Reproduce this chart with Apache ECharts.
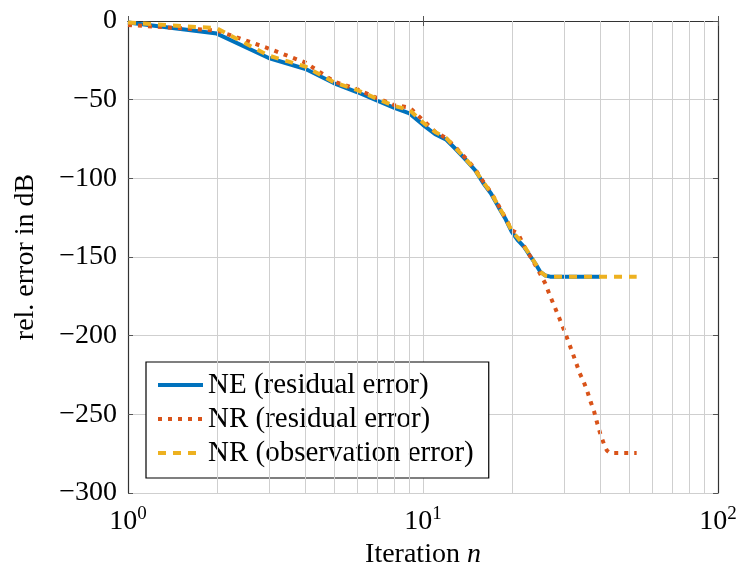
<!DOCTYPE html>
<html>
<head>
<meta charset="utf-8">
<script src="https://cdn.jsdelivr.net/npm/echarts@6/dist/echarts.min.js"></script>
<style>html,body{margin:0;padding:0;background:#fff;}#c{width:738px;height:576px;}</style>
</head>
<body>
<div id="c"></div>
<script>
// Iteration numbers
var iterNE = [1,2,3,4,5,6,7,8,9,10,11,12,13,14,15,16,17,18,19,20,21,22,23,24,25,26,27,28,29,30,31,32,33,34,35,36,37,38,39,40];
var iterNR = [1,2,3,4,5,6,7,8,9,10,11,12,13,14,15,16,17,18,19,20,21,22,23,24,25,26,27,28,29,30,31,32,33,34,35,36,37,38,39,40,41,42,43,44,45,46,47,48,49,50,51,52,53];
// NE (residual error)
var neResidual = [-1,-8,-23.5,-30.5,-39.6,-45.3,-50.7,-55.2,-58.7,-66,-72,-75.5,-82,-88.4,-94.7,-103,-109.6,-118,-125.5,-134,-139.5,-143.5,-149,-154,-159.5,-161.8,-162.5,-162.5,-162.5,-162.5,-162.5,-162.5,-162.5,-162.5,-162.5,-162.5,-162.5,-162.5,-162.5,-162.5];
// NR (residual error)
var nrResidual = [-2.5,-6,-17.5,-26.5,-38.5,-43.5,-49,-53.5,-55,-63,-70.5,-74.5,-81,-87.5,-94,-102,-109,-117,-125,-133,-135,-143,-149,-155,-161,-167,-175,-182,-189,-196,-203,-210,-217,-224,-229,-235,-242,-248,-256,-263,-268.5,-273,-274.5,-274.5,-274.5,-274.5,-274.5,-274.5,-274.5,-274.5,-274.5,-274.5,-274.5];
// NR (observation error)
var nrObservation = [-1,-4.6,-22,-29,-39,-44,-49.5,-54,-56.5,-64.5,-70.5,-74.5,-81.5,-88,-94.5,-102.5,-109,-117.5,-125,-133.5,-138,-143,-148.5,-154,-159.5,-161.8,-162.5,-162.5,-162.5,-162.5,-162.5,-162.5,-162.5,-162.5,-162.5,-162.5,-162.5,-162.5,-162.5,-162.5,-162.5,-162.5,-162.5,-162.5,-162.5,-162.5,-162.5,-162.5,-162.5,-162.5,-162.5,-162.5,-162.5];
// minor grid positions on the log axis
var minorGridX = [2,3,4,5,6,7,8,9,20,30,40,50,60,70,80,90];
var seriesNames = ['NE (residual error)','NR (residual error)','NR (observation error)'];
var xAxisName = 'Iteration';
var yAxisName = 'rel. error in dB';

function zip(xs, ys){ return xs.map(function(x,i){ return [x, ys[i]]; }); }

var FONT = 'Liberation Serif';
var chart = echarts.init(document.getElementById('c'), null, {renderer:'canvas'});
var frame = {show:true, lineStyle:{color:'#333', width:1.2}};
var tick = {show:true, inside:true, length:5, lineStyle:{color:'#555', width:1}};
var grid = {show:true, lineStyle:{color:'#cfcfcf', width:1}};
var supFmt = function(v){ var e = Math.round(Math.log10(v)); return '{a|10}{b|' + e + '}'; };
var supRich = {a:{fontFamily:FONT, fontSize:28, color:'#000'}, b:{fontFamily:FONT, fontSize:19, color:'#000', padding:[0,0,14,0]}};

chart.setOption({
  animation:false,
  backgroundColor:'#fff',
  grid:{left:128, top:21, right:20, bottom:83, containLabel:false, outerBoundsMode:'none'},
  xAxis:[{
    type:'log', logBase:10, min:1, max:100, position:'bottom',
    axisLine:frame, axisTick:tick, splitLine:grid,
    axisLabel:{formatter:supFmt, rich:supRich, margin:12},
    name:'{r|' + xAxisName + ' }{i|n}', nameLocation:'middle', nameGap:48,
    nameTextStyle:{rich:{r:{fontFamily:FONT, fontSize:28, color:'#000'}, i:{fontFamily:FONT, fontSize:28, fontStyle:'italic', color:'#000'}}}
  },{
    type:'log', logBase:10, min:1, max:100, position:'top',
    axisLine:frame, axisTick:tick, splitLine:{show:false}, axisLabel:{show:false}
  }],
  yAxis:[{
    type:'value', min:-300, max:0, interval:50, position:'left',
    axisLine:frame, axisTick:tick, splitLine:grid,
    axisLabel:{fontFamily:FONT, fontSize:28, color:'#000', margin:11,
      formatter:function(v){ return String(v).replace('-', '\u2212'); }},
    name:yAxisName, nameLocation:'middle', nameGap:88,
    nameTextStyle:{fontFamily:FONT, fontSize:28, color:'#000'}
  },{
    type:'value', min:-300, max:0, interval:50, position:'right',
    axisLine:frame, axisTick:tick, splitLine:{show:false}, axisLabel:{show:false}
  }],
  legend:{
    orient:'vertical', left:146, top:362,
    data:seriesNames,
    itemWidth:45, itemHeight:14, itemGap:0,
    padding:[6,15,8,10],
    borderColor:'#000', borderWidth:1.2, borderRadius:0, backgroundColor:'#fff',
    itemStyle:{opacity:0, borderWidth:0},
    lineStyle:{width:4},
    textStyle:{fontFamily:FONT, fontSize:29, color:'#000', lineHeight:34}
  },
  series:[
    {type:'line', name:'_grid', data:[], z:1, silent:true,
     markLine:{silent:true, symbol:['none','none'], label:{show:false}, animation:false,
       lineStyle:{color:'#cfcfcf', width:1, type:'solid'},
       data:minorGridX.map(function(v){ return {xAxis:v}; })}},
    {type:'line', name:seriesNames[0], data:zip(iterNE, neResidual), showSymbol:false, symbol:'none', z:3,
     lineStyle:{color:'#0072BD', width:4, type:'solid'}, itemStyle:{color:'#0072BD'}},
    {type:'line', name:seriesNames[1], data:zip(iterNR, nrResidual), showSymbol:false, symbol:'none', z:4,
     lineStyle:{color:'#D95319', width:4, type:[4,6]}, itemStyle:{color:'#D95319'}},
    {type:'line', name:seriesNames[2], data:zip(iterNR, nrObservation), showSymbol:false, symbol:'none', z:5,
     lineStyle:{color:'#EDB120', width:4, type:[8,7]}, itemStyle:{color:'#EDB120'}}
  ]
});
</script>
</body>
</html>
